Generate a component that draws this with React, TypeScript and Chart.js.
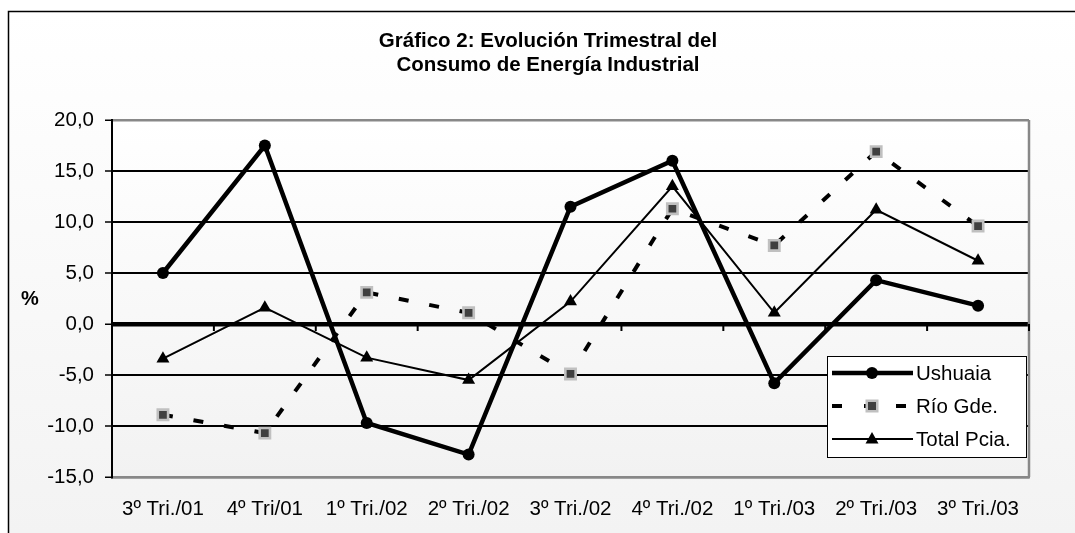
import React, { useEffect, useRef } from "react";
import { Chart, registerables } from "chart.js";

Chart.register(...registerables);

const categories = [
  "3º Tri./01",
  "4º Tri/01",
  "1º Tri./02",
  "2º Tri./02",
  "3º Tri./02",
  "4º Tri./02",
  "1º Tri./03",
  "2º Tri./03",
  "3º Tri./03",
];
const ushuaia = [5.0, 17.5, -9.7, -12.8, 11.5, 16.0, -5.8, 4.3, 1.8];
const rioGde = [-8.9, -10.7, 3.1, 1.1, -4.9, 11.3, 7.7, 16.9, 9.6];
const totalPcia = [-3.4, 1.6, -3.3, -5.5, 2.2, 13.5, 1.1, 11.2, 6.2];
const seriesNames = ["Ushuaia", "Río Gde.", "Total Pcia."];
const titleLines = ["Gráfico 2: Evolución Trimestral del", "Consumo de Energía Industrial"];
const yAxisLabel = "%";
const yMin = -15;
const yMax = 20;
const yStep = 5;

const FONT = "'Liberation Sans', Arial, sans-serif";

const decorPlugin = {
  id: "decor",
  beforeDraw(chart: any) {
    const { ctx, chartArea } = chart;
    const w = chart.width;
    const h = chart.height;
    ctx.save();
    const g = ctx.createLinearGradient(0, 11, 0, h);
    g.addColorStop(0, "#ffffff");
    g.addColorStop(1, "#f3f3f3");
    ctx.fillStyle = g;
    ctx.fillRect(8, 11, w, h);
    const g2 = ctx.createLinearGradient(0, chartArea.top, 0, chartArea.bottom);
    g2.addColorStop(0, "#ffffff");
    g2.addColorStop(1, "#f2f2f2");
    ctx.fillStyle = g2;
    ctx.fillRect(chartArea.left, chartArea.top, chartArea.right - chartArea.left, chartArea.bottom - chartArea.top);
    ctx.strokeStyle = "#000";
    ctx.lineWidth = 1.5;
    ctx.strokeRect(8.5, 11.5, w + 20, h + 20);
    // title
    ctx.fillStyle = "#000";
    ctx.font = `bold 20.5px ${FONT}`;
    ctx.textAlign = "center";
    ctx.textBaseline = "alphabetic";
    ctx.fillText(titleLines[0], 548, 47);
    ctx.fillText(titleLines[1], 548, 71);
    ctx.font = `bold 20px ${FONT}`;
    ctx.fillText(yAxisLabel, 30, 305);
    ctx.restore();
  },
  afterDatasetsDraw(chart: any) {
    const { ctx, chartArea, scales } = chart;
    ctx.save();
    ctx.strokeStyle = "#888";
    ctx.lineWidth = 2.5;
    ctx.beginPath();
    ctx.moveTo(chartArea.right, chartArea.top);
    ctx.lineTo(chartArea.right, chartArea.bottom);
    ctx.stroke();
    const y0 = scales.y.getPixelForValue(0);
    const half = (scales.x.getPixelForValue(1) - scales.x.getPixelForValue(0)) / 2;
    ctx.strokeStyle = "#000";
    ctx.lineWidth = 2;
    for (let i = 0; i <= categories.length; i++) {
      const x = scales.x.getPixelForValue(i) - half;
      ctx.beginPath();
      ctx.moveTo(x, y0);
      ctx.lineTo(x, y0 + 7);
      ctx.stroke();
    }
    ctx.restore();
  },
  afterDraw(chart: any) {
    const { ctx } = chart;
    ctx.save();
    const bx = 827, by = 356, bw = 199, bh = 101;
    ctx.fillStyle = "#fff";
    ctx.fillRect(bx, by, bw, bh);
    ctx.strokeStyle = "#000";
    ctx.lineWidth = 1;
    ctx.strokeRect(bx + 0.5, by + 0.5, bw, bh);
    const rows = [373, 406, 439];
    const x1 = 832, x2 = 913, xm = 872;
    ctx.strokeStyle = "#000";
    ctx.lineWidth = 4.5;
    ctx.beginPath();
    ctx.moveTo(x1, rows[0]);
    ctx.lineTo(x2, rows[0]);
    ctx.stroke();
    ctx.fillStyle = "#000";
    ctx.beginPath();
    ctx.arc(xm, rows[0], 6, 0, Math.PI * 2);
    ctx.fill();
    ctx.lineWidth = 4;
    ctx.setLineDash([10, 22]);
    ctx.beginPath();
    ctx.moveTo(x1, rows[1]);
    ctx.lineTo(x2, rows[1]);
    ctx.stroke();
    ctx.setLineDash([]);
    ctx.fillStyle = "#c0c0c0";
    ctx.fillRect(xm - 6.5, rows[1] - 6.5, 13, 13);
    ctx.fillStyle = "#404040";
    ctx.fillRect(xm - 4, rows[1] - 4, 8, 8);
    ctx.lineWidth = 2;
    ctx.strokeStyle = "#000";
    ctx.beginPath();
    ctx.moveTo(x1, rows[2]);
    ctx.lineTo(x2, rows[2]);
    ctx.stroke();
    ctx.fillStyle = "#000";
    ctx.beginPath();
    ctx.moveTo(xm, rows[2] - 7);
    ctx.lineTo(xm + 6.5, rows[2] + 4.5);
    ctx.lineTo(xm - 6.5, rows[2] + 4.5);
    ctx.closePath();
    ctx.fill();
    ctx.font = `20.5px ${FONT}`;
    ctx.fillStyle = "#000";
    ctx.textAlign = "left";
    ctx.textBaseline = "middle";
    seriesNames.forEach((n, i) => ctx.fillText(n, 916, rows[i] + 1));
    ctx.restore();
  },
};

export default function App() {
  const ref = useRef<HTMLCanvasElement | null>(null);
  useEffect(() => {
    if (!ref.current) return;
    const chart = new Chart(ref.current, {
      type: "line",
      data: {
        labels: categories,
        datasets: [
          {
            label: seriesNames[0],
            data: ushuaia,
            borderColor: "#000",
            backgroundColor: "#000",
            borderWidth: 4.5,
            pointStyle: "circle",
            pointRadius: 6,
            pointBorderWidth: 0,
            tension: 0,
          },
          {
            label: seriesNames[1],
            data: rioGde,
            borderColor: "#000",
            borderWidth: 4,
            borderDash: [10, 21],
            pointStyle: "rect",
            pointRadius: 7.3,
            pointBorderWidth: 2.6,
            pointBorderColor: "#c0c0c0",
            pointBackgroundColor: "#404040",
            tension: 0,
          },
          {
            label: seriesNames[2],
            data: totalPcia,
            borderColor: "#000",
            backgroundColor: "#000",
            borderWidth: 2,
            pointStyle: "triangle",
            pointRadius: 7.5,
            pointBorderWidth: 0,
            tension: 0,
          },
        ],
      },
      options: {
        animation: false,
        responsive: false,
        devicePixelRatio: 1,
        layout: { padding: { left: 0, top: 120, right: 46, bottom: 0 } },
        plugins: {
          legend: { display: false },
          title: { display: false },
          tooltip: { enabled: false },
        },
        scales: {
          x: {
            type: "category",
            offset: true,
            grid: { display: false },
            border: { display: true, color: "#888", width: 2.5 },
            ticks: {
              color: "#000",
              font: { family: FONT, size: 20.5 },
              padding: 12,
              maxRotation: 0,
              autoSkip: false,
            },
            afterFit(scale: any) {
              scale.height = 56;
            },
          },
          y: {
            min: yMin,
            max: yMax,
            ticks: {
              stepSize: yStep,
              color: "#000",
              font: { family: FONT, size: 20.5 },
              padding: 11,
              callback: (v: any) => Number(v).toFixed(1).replace(".", ","),
            },
            grid: {
              color: (c: any) => {
                const v = c.tick?.value;
                if (v === yMax || v === yMin) return "#888";
                return "#000";
              },
              lineWidth: (c: any) => {
                const v = c.tick?.value;
                if (v === 0) return 4.5;
                if (v === yMax || v === yMin) return 2.5;
                return 2;
              },
              tickLength: 7,
              tickColor: "#000",
              tickWidth: 1.5,
            },
            border: { display: true, color: "#000", width: 2 },
            afterFit(scale: any) {
              scale.width = 112;
            },
          },
        },
      },
      plugins: [decorPlugin],
    });
    return () => chart.destroy();
  }, []);
  return (
    <div style={{ position: "fixed", left: 0, top: 0, width: 1075, height: 533 }}>
      <canvas ref={ref} width={1075} height={533} style={{ width: 1075, height: 533 }} />
    </div>
  );
}
